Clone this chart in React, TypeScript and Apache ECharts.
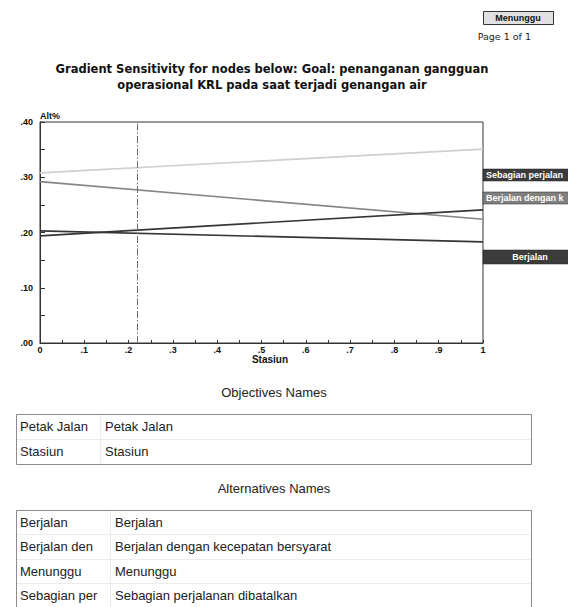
import React, { useEffect, useRef } from "react";
import * as echarts from "echarts";

// ---- data ----
const xPoints = [0, 1];
const menunggu = [0.308, 0.351];
const berjalanDengan = [0.292, 0.224];
const sebagian = [0.194, 0.241];
const berjalan = [0.203, 0.183];
const currentStasiun = 0.22;

const titleLines = [
  "Gradient Sensitivity for nodes below: Goal: penanganan gangguan",
  "operasional KRL pada saat terjadi genangan air",
];
const objectiveAbbr = ["Petak Jalan", "Stasiun"];
const objectiveNames = ["Petak Jalan", "Stasiun"];
const altAbbr = ["Berjalan", "Berjalan den", "Menunggu", "Sebagian per"];
const altNames = [
  "Berjalan",
  "Berjalan dengan kecepatan bersyarat",
  "Menunggu",
  "Sebagian perjalanan dibatalkan",
];

const LABEL_FONT = "Liberation Sans, Arial, sans-serif";
const TAHOMA = "DejaVu Sans, Verdana, sans-serif";

function pairs(ys: number[]) {
  return xPoints.map((x, i) => [x, ys[i]]);
}

function table(
  left: number,
  right: number,
  top: number,
  rowH: number,
  colX: number,
  abbr: string[],
  names: string[],
  bottom?: number
) {
  const els: any[] = [];
  const n = abbr.length;
  const bot = bottom ?? top + rowH * n;
  els.push({
    type: "rect",
    shape: { x: left + 0.5, y: top + 0.5, width: right - left, height: bot - top },
    style: { fill: "#fff", stroke: "#8c8c8c", lineWidth: 1 },
  });
  for (let i = 1; i < n; i++) {
    const y = Math.round(top + rowH * i) + 0.5;
    els.push({
      type: "line",
      shape: { x1: left + 1, y1: y, x2: right, y2: y },
      style: { stroke: "#ececec", lineWidth: 1 },
    });
  }
  els.push({
    type: "line",
    shape: { x1: colX + 0.5, y1: top + 1, x2: colX + 0.5, y2: bot },
    style: { stroke: "#ececec", lineWidth: 1 },
  });
  for (let i = 0; i < n; i++) {
    const cy = top + rowH * i + rowH / 2;
    els.push({
      type: "text",
      style: {
        text: abbr[i], x: left + 4, y: cy, fill: "#222",
        font: `13px ${LABEL_FONT}`, align: "left", verticalAlign: "middle",
      },
    });
    els.push({
      type: "text",
      style: {
        text: names[i], x: colX + 5, y: cy, fill: "#222",
        font: `13px ${LABEL_FONT}`, align: "left", verticalAlign: "middle",
      },
    });
  }
  return els;
}

function tagBox(y: number, h: number, fill: string, text: string, align: "left" | "center") {
  return [
    {
      type: "rect",
      shape: { x: 483, y, width: 100, height: h },
      style: { fill, stroke: "#222", lineWidth: 0.5 },
    },
    {
      type: "text",
      style: {
        text,
        x: align === "left" ? 486 : 530,
        y: y + h / 2,
        fill: "#fff",
        font: `bold 9px ${LABEL_FONT}`,
        align,
        verticalAlign: "middle",
        width: 80,
        overflow: "truncate",
        ellipsis: "",
      },
    },
  ];
}

export default function App() {
  const ref = useRef<HTMLDivElement>(null);

  useEffect(() => {
    if (!ref.current) return;
    const chart = echarts.init(ref.current, undefined, { renderer: "svg" });

    const graphic: any[] = [
      // top-right tag
      {
        type: "rect",
        shape: { x: 483.5, y: 11.5, width: 70, height: 13 },
        style: { fill: "#e0e0e0", stroke: "#333", lineWidth: 1 },
      },
      {
        type: "text",
        style: {
          text: "Menunggu", x: 518, y: 18, fill: "#111",
          font: `bold 9px ${LABEL_FONT}`, align: "center", verticalAlign: "middle",
        },
      },
      {
        type: "text",
        style: {
          text: "Page 1 of 1", x: 531, y: 36, fill: "#222",
          font: `9.5px ${TAHOMA}`, align: "right", verticalAlign: "middle",
        },
      },
      // title
      ...titleLines.map((t, i) => ({
        type: "text",
        style: {
          text: t, x: 272, y: 69 + i * 16, fill: "#111",
          font: `bold 11.5px ${TAHOMA}`, align: "center", verticalAlign: "middle",
        },
      })),
      // right tags
      ...tagBox(169, 12, "#3c3c3c", "Sebagian perjalanan dibatalkan", "left"),
      ...tagBox(192, 12, "#808080", "Berjalan dengan kecepatan bersyarat", "left"),
      ...tagBox(250, 14, "#3c3c3c", "Berjalan", "center"),
      // table headings
      {
        type: "text",
        style: {
          text: "Objectives Names", x: 274, y: 392, fill: "#222",
          font: `13px ${LABEL_FONT}`, align: "center", verticalAlign: "middle",
        },
      },
      ...table(16, 531, 414, 25, 100, objectiveAbbr, objectiveNames),
      {
        type: "text",
        style: {
          text: "Alternatives Names", x: 274, y: 488, fill: "#222",
          font: `13px ${LABEL_FONT}`, align: "center", verticalAlign: "middle",
        },
      },
      ...table(16, 531, 510, 24.4, 110, altAbbr, altNames, 610),
    ];

    const lineSeries = (name: string, ys: number[], color: string, extra: any = {}) => ({
      type: "line",
      name,
      data: pairs(ys),
      symbol: "none",
      lineStyle: { color, width: 1.7 },
      silent: true,
      ...extra,
    });

    chart.setOption({
      animation: false,
      backgroundColor: "#fff",
      grid: {
        left: 40, top: 122, width: 443, height: 221,
        show: true, borderColor: "#333", borderWidth: 1, backgroundColor: "transparent",
      },
      xAxis: {
        type: "value",
        min: 0, max: 1, interval: 0.1,
        name: "Stasiun",
        nameLocation: "middle",
        nameGap: 7,
        nameTextStyle: { fontFamily: LABEL_FONT, fontWeight: "bold", fontSize: 10, color: "#111", padding: [0, 0, 0, 17] },
        axisLine: { lineStyle: { color: "#333" } },
        axisTick: { inside: true, length: 3, lineStyle: { color: "#333" } },
        minorTick: { show: true, splitNumber: 2, length: 3, lineStyle: { color: "#333" } },
        splitLine: { show: false },
        axisLabel: {
          fontFamily: LABEL_FONT, fontWeight: "bold", fontSize: 9, color: "#111", margin: 2,
          formatter: (v: number) => (v === 0 ? "0" : v >= 1 ? "1" : "." + Math.round(v * 10)),
        },
      },
      yAxis: {
        type: "value",
        min: 0, max: 0.4, interval: 0.1,
        name: "Alt%",
        nameLocation: "end",
        nameGap: 2,
        nameTextStyle: { fontFamily: LABEL_FONT, fontWeight: "bold", fontSize: 9, color: "#111", align: "left" },
        axisLine: { lineStyle: { color: "#333" } },
        axisTick: { inside: true, length: 5, lineStyle: { color: "#333" } },
        minorTick: { show: true, splitNumber: 2, length: 5, lineStyle: { color: "#333" } },
        splitLine: { show: false },
        axisLabel: {
          fontFamily: LABEL_FONT, fontWeight: "bold", fontSize: 9, color: "#111", margin: 7,
          formatter: (v: number) => v.toFixed(2).replace(/^0/, ""),
        },
      },
      series: [
        lineSeries("Menunggu", menunggu, "#cfcfcf", {
          markLine: {
            silent: true,
            symbol: "none",
            label: { show: false },
            lineStyle: { color: "#6e6e6e", width: 1, type: [7, 2, 1.5, 2] },
            data: [{ xAxis: currentStasiun }],
          },
        }),
        lineSeries("Berjalan dengan kecepatan bersyarat", berjalanDengan, "#858585"),
        lineSeries("Sebagian perjalanan dibatalkan", sebagian, "#353535"),
        lineSeries("Berjalan", berjalan, "#353535"),
      ],
      graphic,
    });

    return () => chart.dispose();
  }, []);

  return (
    <div
      ref={ref}
      style={{ position: "fixed", left: 0, top: 0, width: 568, height: 607 }}
    />
  );
}
